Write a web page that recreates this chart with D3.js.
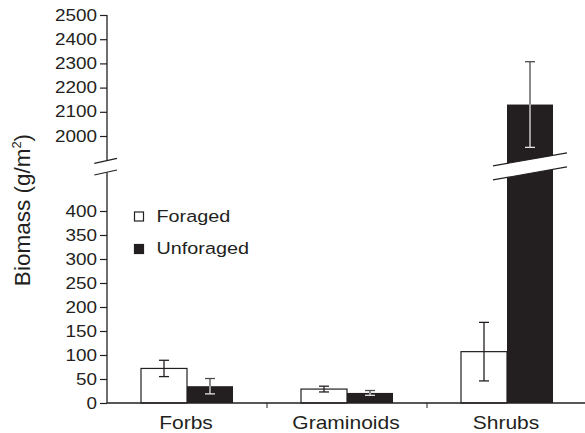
<!DOCTYPE html>
<html>
<head>
<meta charset="utf-8">
<script src="https://cdn.jsdelivr.net/npm/d3@7"></script>
<style>
  body { margin: 0; background: #fff; }
  svg { display: block; font-family: "Liberation Sans", Arial, Helvetica, sans-serif; }
</style>
</head>
<body>
<svg width="585" height="433"></svg>
<script>
// data
var categories = ["Forbs", "Graminoids", "Shrubs"];
var series = ["Foraged", "Unforaged"];
var foraged = [72, 29, 107];
var foragedErr = [17, 6, 61];
var unforaged = [35, 21, 2130];
var unforagedErr = [16, 5, 177];
var lowTicks = [0, 50, 100, 150, 200, 250, 300, 350, 400];
var highTicks = [2000, 2100, 2200, 2300, 2400, 2500];

var ink = "#231f20";
var svg = d3.select("svg");

var x = d3.scaleBand().domain(categories).range([107, 587]).padding(0);
var xs = d3.scaleBand().domain(series)
  .range([x.bandwidth() / 2 - 46, x.bandwidth() / 2 + 46]).padding(0);

// broken y axis: two linear pieces
var yLow = d3.scaleLinear().domain([0, 480]).range([403, 172.6]);
var yUp = d3.scaleLinear().domain([1900, 2500]).range([160.2, 15]);
function yv(v) { return v > 480 ? yUp(v) : yLow(v); }

var rows = [];
categories.forEach(function (c, i) {
  rows.push({ cat: c, s: "Foraged", v: foraged[i], e: foragedErr[i] });
  rows.push({ cat: c, s: "Unforaged", v: unforaged[i], e: unforagedErr[i] });
});

var g = svg.append("g");

// bars
g.selectAll(".bar").data(rows).enter().append("rect")
  .attr("class", "bar")
  .attr("x", d => x(d.cat) + xs(d.s))
  .attr("width", xs.bandwidth())
  .attr("y", d => yv(d.v))
  .attr("height", d => yLow(0) - yv(d.v))
  .attr("fill", d => d.s == "Foraged" ? "#fff" : ink)
  .attr("stroke", ink)
  .attr("stroke-width", d => d.s == "Foraged" ? 1.2 : 0);

// error bars
rows.forEach(function (d) {
  var cx = x(d.cat) + xs(d.s) + xs.bandwidth() / 2;
  var top = yv(d.v + d.e), bot = yv(d.v - d.e), mid = yv(d.v);
  var out = d.s == "Foraged" ? ink : "#4d4d4d";
  var inn = d.s == "Foraged" ? ink : "#e2e2e2";
  g.append("line").attr("x1", cx).attr("x2", cx).attr("y1", top).attr("y2", mid)
    .attr("stroke", out).attr("stroke-width", 1.3);
  g.append("line").attr("x1", cx - 5).attr("x2", cx + 5).attr("y1", top).attr("y2", top)
    .attr("stroke", out).attr("stroke-width", 1.3);
  g.append("line").attr("x1", cx).attr("x2", cx).attr("y1", mid).attr("y2", bot)
    .attr("stroke", inn).attr("stroke-width", 1.3);
  g.append("line").attr("x1", cx - 5).attr("x2", cx + 5).attr("y1", bot).attr("y2", bot)
    .attr("stroke", inn).attr("stroke-width", 1.3);
});

// break band across the tall bar
var bc = (yUp.range()[0] + yLow.range()[1]) / 2;
var bx = x("Shrubs") + xs("Unforaged") + xs.bandwidth() / 2;
var hw = 37, sl = 13 / 74 * hw, off = 7;
svg.append("polygon")
  .attr("points", [[bx - hw, bc - off + sl], [bx + hw, bc - off - sl], [bx + hw, bc + off - sl], [bx - hw, bc + off + sl]].join(" "))
  .attr("fill", "#fff");
[-off, off].forEach(function (o) {
  svg.append("line")
    .attr("x1", bx - hw).attr("y1", bc + o + sl)
    .attr("x2", bx + hw).attr("y2", bc + o - sl)
    .attr("stroke", ink).attr("stroke-width", 1.2);
});

// y axes
function styleAxis(sel) {
  sel.select(".domain").remove();
  sel.selectAll(".tick line").attr("stroke", ink).attr("stroke-width", 1.2);
  sel.selectAll(".tick text")
    .attr("x", 0)
    .attr("fill", ink)
    .attr("font-size", 16)
    .attr("font-family", "Liberation Sans, Arial, sans-serif")
    .attr("transform", "translate(-10,0) scale(1.18,1)");
}
svg.append("g").attr("transform", "translate(107,0)")
  .call(d3.axisLeft(yLow).tickValues(lowTicks).tickSize(7).tickPadding(3).tickFormat(d3.format("d")))
  .call(styleAxis);
svg.append("g").attr("transform", "translate(107,0)")
  .call(d3.axisLeft(yUp).tickValues(highTicks).tickSize(7).tickPadding(3).tickFormat(d3.format("d")))
  .call(styleAxis);

svg.append("line").attr("x1", 107).attr("x2", 107)
  .attr("y1", yUp(2500)).attr("y2", yUp.range()[0] + 0.6)
  .attr("stroke", ink).attr("stroke-width", 1.3);
svg.append("line").attr("x1", 107).attr("x2", 107)
  .attr("y1", yLow.range()[1] - 0.1).attr("y2", yLow(0))
  .attr("stroke", ink).attr("stroke-width", 1.3);

// axis break slashes
[yUp.range()[0] + 0.6, yLow.range()[1] - 0.1].forEach(function (yy) {
  svg.append("line")
    .attr("x1", 107 - 12.7).attr("y1", yy + 2.5)
    .attr("x2", 107 + 10).attr("y2", yy - 2.5)
    .attr("stroke", ink).attr("stroke-width", 1.2);
});

// x axis
svg.append("line").attr("x1", 107).attr("x2", 587)
  .attr("y1", yLow(0)).attr("y2", yLow(0))
  .attr("stroke", ink).attr("stroke-width", 1.3);
categories.slice(1).forEach(function (c) {
  svg.append("line").attr("x1", x(c)).attr("x2", x(c))
    .attr("y1", yLow(0)).attr("y2", yLow(0) + 5)
    .attr("stroke", ink).attr("stroke-width", 1);
});
svg.selectAll(".xlab").data(categories).enter().append("text")
  .attr("class", "xlab")
  .attr("transform", d => "translate(" + (x(d) + x.bandwidth() / 2 - 1) + ",429) scale(1.2,1)")
  .attr("text-anchor", "middle")
  .attr("font-size", 17.5)
  .attr("fill", ink)
  .text(d => d);

// y label
var yl = svg.append("text")
  .attr("transform", "translate(30,210) rotate(-90)")
  .attr("text-anchor", "middle")
  .attr("font-size", 22.5)
  .attr("fill", ink);
yl.append("tspan").text("Biomass (g/m");
yl.append("tspan").attr("font-size", 13).attr("dy", -9).text("2");
yl.append("tspan").attr("dy", 9).text(")");

// legend
var leg = svg.append("g");
series.forEach(function (s, i) {
  var ly = [212, 244.5][i];
  leg.append("rect").attr("x", 134.5).attr("y", ly)
    .attr("width", 9).attr("height", 9)
    .attr("fill", i == 0 ? "#fff" : ink)
    .attr("stroke", ink).attr("stroke-width", 1.2);
  leg.append("text")
    .attr("transform", "translate(156.5," + (ly + 9.8) + ") scale(1.2,1)")
    .attr("font-size", 16.5)
    .attr("fill", ink)
    .text(s);
});
</script>
</body>
</html>
